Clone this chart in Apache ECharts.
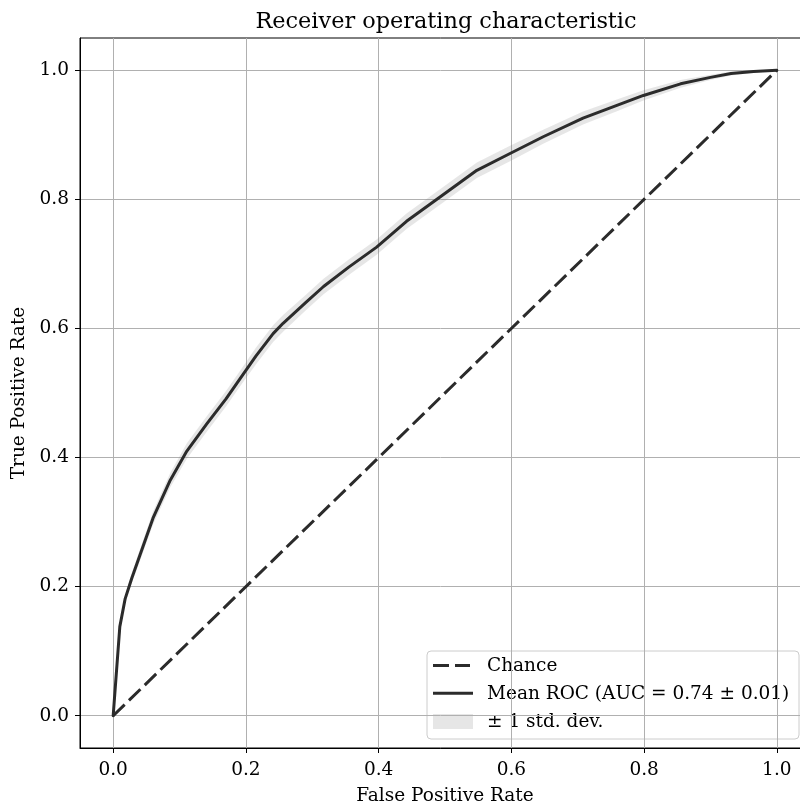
<!DOCTYPE html>
<html>
<head>
<meta charset="utf-8">
<title>Receiver operating characteristic</title>
<script src="https://cdn.jsdelivr.net/npm/echarts@6/dist/echarts.min.js"></script>
<style>
  html, body { margin: 0; padding: 0; background: #fff; }
  #chart { width: 800px; height: 807px; }
</style>
</head>
<body>
<div id="chart"></div>
<script>
// Mean ROC curve over the cross-validation folds
const fprPoints = [0, 0.010, 0.018, 0.028, 0.038, 0.060, 0.086, 0.111, 0.141, 0.170,
  0.191, 0.215, 0.241, 0.256, 0.290, 0.317, 0.355, 0.397, 0.442, 0.493,
  0.548, 0.598, 0.648, 0.708, 0.760, 0.799, 0.855, 0.900, 0.931, 0.965, 1.0];
const tprMean = [0, 0.138, 0.181, 0.213, 0.242, 0.306, 0.365, 0.410, 0.452, 0.491,
  0.522, 0.557, 0.592, 0.608, 0.640, 0.665, 0.695, 0.726, 0.766, 0.804,
  0.845, 0.871, 0.897, 0.926, 0.946, 0.961, 0.979, 0.989, 0.995, 0.998, 1.0];
const tprStd = [0, 0.004, 0.006, 0.008, 0.009, 0.010, 0.011, 0.012, 0.012, 0.012,
  0.012, 0.013, 0.013, 0.013, 0.012, 0.012, 0.012, 0.012, 0.012, 0.012,
  0.012, 0.012, 0.011, 0.010, 0.009, 0.008, 0.006, 0.004, 0.003, 0.002, 0];
const chanceX = [0, 1];
const chanceY = [0, 1];
const tickValues = [0, 0.2, 0.4, 0.6, 0.8, 1.0];
const seriesNames = ['Chance', 'Mean ROC (AUC = 0.74 \u00b1 0.01)', '\u00b1 1 std. dev.'];

const FONT = 'DejaVu Serif';
const LINE_COLOR = '#2b2b2b';
const BAND_COLOR = 'rgba(128,128,128,0.2)';
const DASH = [16, 6];

const meanData = fprPoints.map((x, i) => [x, tprMean[i]]);
const upper = fprPoints.map((x, i) => [x, Math.min(tprMean[i] + tprStd[i], 1)]);
const lower = fprPoints.map((x, i) => [x, Math.max(tprMean[i] - tprStd[i], 0)]);
const chanceData = chanceX.map((x, i) => [x, chanceY[i]]);

const chart = echarts.init(document.getElementById('chart'), null, { renderer: 'canvas' });

function valueAxis(name, nameGap, labelMargin) {
  return {
    type: 'value',
    min: -0.05,
    max: 1.05,
    name: name,
    nameLocation: 'middle',
    nameGap: nameGap,
    nameTextStyle: { fontFamily: FONT, fontSize: 18.5, color: '#000' },
    axisLine: { show: true, onZero: false, lineStyle: { color: '#000', width: 1 } },
    axisTick: { show: true, length: 5, inside: false, customValues: tickValues,
      lineStyle: { color: '#000', width: 1 } },
    axisLabel: { customValues: tickValues, margin: labelMargin,
      fontFamily: FONT, fontSize: 18.5, color: '#000',
      formatter: v => v.toFixed(1) },
    splitLine: { show: true, lineStyle: { color: '#b0b0b0', width: 1 } }
  };
}

// Legend box in the lower right corner of the axes
const LEG = { x: 427, y: 651, w: 372, h: 88, iconX: 433, iconW: 40, textX: 487,
  rows: [665.5, 693.3, 721.5] };
const legendGraphic = {
  type: 'group',
  z: 100,
  children: [
    { type: 'rect', shape: { x: LEG.x, y: LEG.y, width: LEG.w, height: LEG.h, r: 4 },
      style: { fill: 'rgba(255,255,255,0.8)', stroke: '#cccccc', lineWidth: 1 } },
    { type: 'line', shape: { x1: LEG.iconX, y1: LEG.rows[0], x2: LEG.iconX + 37, y2: LEG.rows[0] },
      style: { stroke: LINE_COLOR, lineWidth: 3, lineDash: DASH } },
    { type: 'line', shape: { x1: LEG.iconX, y1: LEG.rows[1], x2: LEG.iconX + LEG.iconW, y2: LEG.rows[1] },
      style: { stroke: LINE_COLOR, lineWidth: 3 } },
    { type: 'rect', shape: { x: LEG.iconX, y: LEG.rows[2] - 7.5, width: LEG.iconW, height: 15 },
      style: { fill: BAND_COLOR } }
  ].concat(seriesNames.map((t, i) => ({
    type: 'text',
    style: { text: t, x: LEG.textX, y: LEG.rows[i] + 1, fill: '#000',
      font: '18.5px "' + FONT + '"', textVerticalAlign: 'middle', textAlign: 'left' }
  })))
};

const option = {
  animation: false,
  backgroundColor: '#fff',
  title: {
    text: 'Receiver operating characteristic',
    left: 441,
    top: 6,
    textAlign: 'center',
    textStyle: { fontFamily: FONT, fontSize: 22.4, fontWeight: 'normal', color: '#000' }
  },
  grid: {
    left: 80, top: 38, width: 730, height: 710,
    outerBoundsMode: 'none',
    containLabel: false,
    show: true, borderColor: '#000', borderWidth: 1, backgroundColor: 'transparent'
  },
  xAxis: valueAxis('False Positive Rate', 39, 13),
  yAxis: Object.assign(valueAxis('True Positive Rate', 47, 11), { nameRotate: 90 }),
  graphic: [legendGraphic],
  series: [
    {
      name: seriesNames[2],
      type: 'custom',
      z: 1,
      itemStyle: { color: BAND_COLOR },
      data: [[0, 0]],
      renderItem: function (params, api) {
        const pts = upper.map(p => api.coord(p))
          .concat(lower.slice().reverse().map(p => api.coord(p)));
        return {
          type: 'polygon',
          shape: { points: pts },
          style: { fill: BAND_COLOR, stroke: null }
        };
      }
    },
    {
      name: seriesNames[0],
      type: 'line',
      z: 2,
      data: chanceData,
      showSymbol: false,
      symbol: 'none',
      lineStyle: { color: LINE_COLOR, width: 3, type: DASH }
    },
    {
      name: seriesNames[1],
      type: 'line',
      z: 3,
      data: meanData,
      showSymbol: false,
      symbol: 'none',
      lineStyle: { color: LINE_COLOR, width: 3, join: 'round', cap: 'round' }
    }
  ]
};

chart.setOption(option);
</script>
</body>
</html>
